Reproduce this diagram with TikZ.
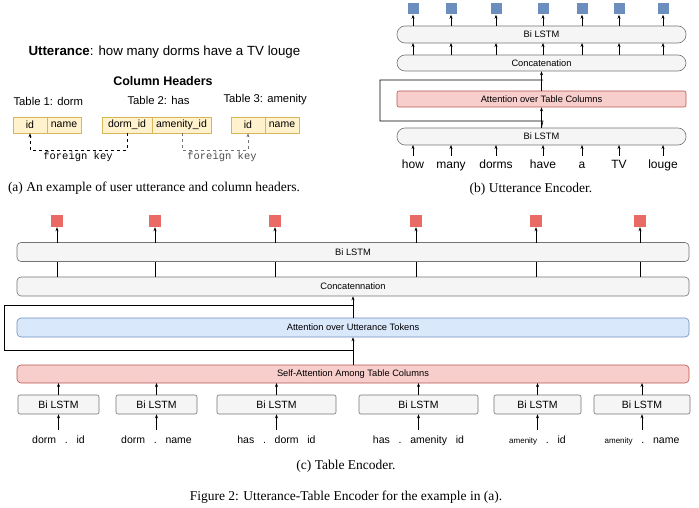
\documentclass[tikz,border=0pt]{standalone}
\usepackage{fontspec}
\setmainfont{Liberation Serif}
\setsansfont{Liberation Sans}
\setmonofont{Liberation Mono}
\usetikzlibrary{arrows.meta}
\definecolor{sqblue}{HTML}{6C8EBF}
\definecolor{sqred}{HTML}{EA6B66}
\definecolor{yfill}{HTML}{FFF2CC}
\definecolor{ydraw}{HTML}{D6B656}
\definecolor{pfill}{HTML}{F8CECC}
\definecolor{pdraw}{HTML}{B85450}
\definecolor{bfill}{HTML}{DAE8FC}
\definecolor{bdraw}{HTML}{6C8EBF}
\begin{document}
\begin{tikzpicture}[x=1pt,y=-1pt,
  ar/.style={-{Stealth[length=4pt,width=3pt]},line width=0.6pt},
  gbox/.style={draw=black!55,fill=black!4,rounded corners=4pt,line width=0.6pt,font=\sffamily\fontsize{9.3}{10}\selectfont,inner sep=0pt},
  pbox/.style={gbox,fill=pfill,draw=pdraw},
  bbox/.style={gbox,fill=bfill,draw=bdraw},
  ybox/.style={draw=ydraw,fill=yfill,line width=0.6pt,font=\sffamily\fontsize{10.5}{11}\selectfont,inner sep=0pt,minimum height=16pt},
  sq/.style={minimum size=11pt,inner sep=0pt},
  wd/.style={font=\sffamily\fontsize{10.5}{11}\selectfont,inner sep=1pt},
  capt/.style={font=\fontsize{13.5}{15}\selectfont}]
\useasboundingbox (0,0) rectangle (699,508);
% ---------- (a)
\node[anchor=west,font=\sffamily\fontsize{13.3}{15}\selectfont] (utt) at (25,52) {\textbf{Utterance}: how many dorms have a TV louge};
\node[font=\sffamily\bfseries\fontsize{12.5}{14}\selectfont] (ch) at (163,81) {Column Headers};
\node[anchor=west,font=\sffamily\fontsize{11.3}{12}\selectfont] (t1) at (10,101) {Table 1: dorm};
\node[anchor=west,font=\sffamily\fontsize{11.3}{12}\selectfont] (t2) at (124,100) {Table 2: has};
\node[anchor=west,font=\sffamily\fontsize{11.3}{12}\selectfont] (t3) at (220,100) {Table 3: amenity};
\node[ybox,minimum width=34pt] (a1) at (30,125) {id};
\node[ybox,minimum width=34pt] (a2) at (64,125) {name};
\node[ybox,minimum width=50pt] (b1) at (127,125) {dorm\_id};
\node[ybox,minimum width=59pt] (b2) at (181.5,125) {amenity\_id};
\node[ybox,minimum width=34pt] (c1) at (248,125) {id};
\node[ybox,minimum width=34pt] (c2) at (282,125) {name};
\coordinate (f1) at (30,150); \coordinate (f2) at (127,150);
\coordinate (f3) at (182,150); \coordinate (f4) at (248,150);
\draw[ar,dashed,line width=0.5pt] (b1.south) -- (f2) -- (f1) -- (a1.south);
\draw[ar,dashed,line width=0.5pt,black!55] (b2.south -| f3) -- (f3) -- (f4) -- (c1.south);
\node[font=\ttfamily\fontsize{10.5}{11}\selectfont] (fk1) at (78,157) {foreign key};
\node[font=\ttfamily\fontsize{10.5}{11}\selectfont,black!70] (fk2) at (222,157) {foreign key};
\node[capt] (capa) at (154,188) {(a) An example of user utterance and column headers.};
% ---------- (b)
\node[gbox,minimum width=289pt,minimum height=17pt,rounded corners=8pt] (bl2) at (541.5,34.5) {Bi LSTM};
\node[gbox,minimum width=289pt,minimum height=16pt,rounded corners=8pt] (cc) at (541.5,63) {Concatenation};
\node[pbox,minimum width=289pt,minimum height=16pt,rounded corners=2pt] (att) at (541.5,99) {Attention over Table Columns};
\node[gbox,minimum width=289pt,minimum height=17pt,rounded corners=8pt] (bl1) at (541.5,136.5) {Bi LSTM};
\foreach \x/\w [count=\i] in {413/how,451/many,496/dorms,543/have,582/a,619/TV,663/louge}{
  \node[sq,fill=sqblue] (s\i) at (\x,9) {};
  \node[font=\sffamily\fontsize{12}{13}\selectfont,anchor=base,inner sep=1pt] (w\i) at (\x,168) {\w};
  \draw[ar] (\x,156) -- (\x,145);
  \draw[ar] (\x,55) -- (\x,43);
  \draw[ar] (\x,26) -- (s\i.south);
}
\coordinate (lb1) at (380,121); \coordinate (lb2) at (380,80);
\draw[line width=0.6pt] (bl1.north) -- (543,121) -- (lb1) -- (lb2) -- (543,80);
\draw[ar] (bl1.north) -- (att.south);
\draw[ar] (att.north) -- (cc.south);
\node[capt] (capb) at (531,189) {(b) Utterance Encoder.};
% ---------- (c)
\node[gbox,minimum width=672pt,minimum height=19pt] (cb2) at (353,252) {Bi LSTM};
\node[gbox,minimum width=672pt,minimum height=19pt] (ccc) at (353,286.5) {Concatennation};
\node[bbox,minimum width=672pt,minimum height=19pt] (cat) at (353,327.5) {Attention over Utterance Tokens};
\node[pbox,minimum width=672pt,minimum height=18pt] (csa) at (353,374) {Self-Attention Among Table Columns};
\foreach \x in {57,155,275,416,536,640}{
  \node[sq,minimum size=12pt,fill=sqred] (r\x) at (\x,221) {};
  \draw[ar] (\x,243) -- (r\x.south);
  \draw[line width=0.6pt] (\x,262) -- (\x,277);
}
\foreach \a/\b/\t [count=\i] in {18/99/{dorm\ \ \ .\ \ \ id},116/197/{dorm\ \ \ .\ \ \ name},217/336/{has\ \ \ .\ \ \ dorm\ \ \ id},359/478/{has\ \ \ .\ \ \ amenity\ \ \ id},494/581/{{\fontsize{8}{9}\selectfont amenity}\ \ \ .\ \ \ id},594/690/{{\fontsize{8}{9}\selectfont amenity}\ \ \ .\ \ \ name}}{
  \node[gbox,rounded corners=2pt,minimum width={\b-\a},minimum height=19pt,font=\sffamily\fontsize{10.5}{11}\selectfont] (sb\i) at ({(\a+\b)/2},404.5) {Bi LSTM};
  \node[wd,anchor=base] (cw\i) at ({(\a+\b)/2},443) {\t};
  \draw[ar] ({(\a+\b)/2},430) -- (sb\i.south);
  \draw[ar] (sb\i.north) -- ({(\a+\b)/2},383);
}
\coordinate (lc1) at (4,350); \coordinate (lc2) at (4,305);
\draw[line width=0.6pt] (csa.north) -- (353,350) -- (lc1) -- (lc2) -- (353,305);
\draw[ar] (csa.north) -- (cat.south);
\draw[ar] (cat.north) -- (ccc.south);
\node[capt] (capc) at (346,466) {(c) Table Encoder.};
\node[capt] (fig) at (346,497) {Figure 2: Utterance-Table Encoder for the example in (a).};
\end{tikzpicture}
\end{document}
